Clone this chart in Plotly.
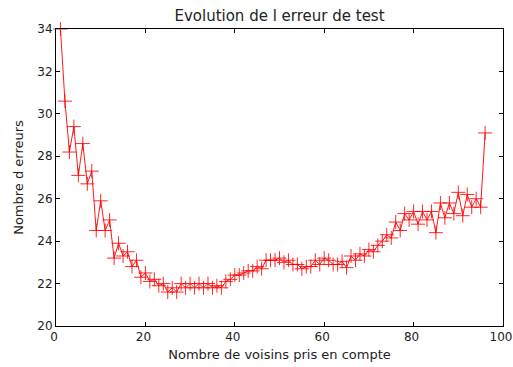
import plotly.graph_objects as go

k_values = list(range(1, 97))
errors = [
    34.0, 30.6, 28.2, 29.4, 27.1, 28.6, 26.7, 27.3, 24.5, 25.9,
    24.5, 25.0, 23.2, 23.9, 23.3, 23.5, 22.8, 23.1, 22.3, 22.5,
    22.1, 22.2, 21.9, 22.0, 21.6, 21.8, 21.6, 22.0, 21.8, 22.0,
    21.8, 22.0, 21.8, 22.0, 21.8, 21.9, 21.8, 22.1, 22.2, 22.4,
    22.4, 22.5, 22.6, 22.6, 22.8, 22.7, 23.1, 23.1, 23.1, 23.2,
    23.0, 23.1, 22.9, 22.9, 22.7, 22.8, 22.8, 23.1, 22.9, 23.2,
    23.1, 22.9, 22.9, 23.05, 22.75, 23.3, 23.1, 23.4, 23.3, 23.6,
    23.5, 23.8, 24.0, 24.3, 24.15, 24.9, 24.5, 25.3, 25.0, 25.4,
    24.8, 25.4, 25.0, 25.4, 24.4, 25.8, 25.1, 25.8, 25.3, 26.3,
    25.2, 26.2, 25.6, 26.0, 25.6, 29.1,
]
x_ticks = [0, 20, 40, 60, 80, 100]
y_ticks = [20, 22, 24, 26, 28, 30, 32, 34]

font = "DejaVu Sans"
W, H = 513, 367

fig = go.Figure()
fig.add_trace(go.Scatter(
    x=k_values, y=errors, mode="lines+markers",
    line=dict(color="rgba(255,0,0,0.9)", width=1),
    marker=dict(symbol="cross-thin", size=10, line=dict(color="rgba(255,0,0,0.85)", width=1), color="red"),
    cliponaxis=False, hoverinfo="skip",
))

axis_common = dict(
    showgrid=False, zeroline=False, showline=True, linecolor="black", linewidth=1,
    mirror="allticks", ticks="inside", ticklen=4, tickcolor="black",
    tickfont=dict(family=font, size=12, color="#222"),
    automargin=False, ticklabeloverflow="allow",
)
fig.update_layout(
    width=W, height=H,
    margin=dict(l=56, r=10, t=29, b=41, autoexpand=False),
    plot_bgcolor="white", paper_bgcolor="white",
    showlegend=False,
    hovermode=False,
    title=dict(text="Evolution de l erreur de test", x=0.5, xref="paper", xanchor="center",
               y=1 - 16 / H, yref="container", yanchor="middle", automargin=False,
               font=dict(family=font, size=15, color="#222")),
    xaxis=dict(range=[0, 100], tickvals=x_ticks, ticklabelshift=-2,
               title=dict(text="Nombre de voisins pris en compte",
                          font=dict(family=font, size=13, color="#222"), standoff=6), **axis_common),
    yaxis=dict(range=[20, 34], tickvals=y_ticks, title=dict(text="Nombre d erreurs",
               font=dict(family=font, size=13, color="#222"), standoff=10), **axis_common),
)
fig.write_html(
    "out.html",
    config={"displayModeBar": False, "staticPlot": True},
    post_script="document.body.style.margin='0';document.body.style.overflow='hidden';",
)
